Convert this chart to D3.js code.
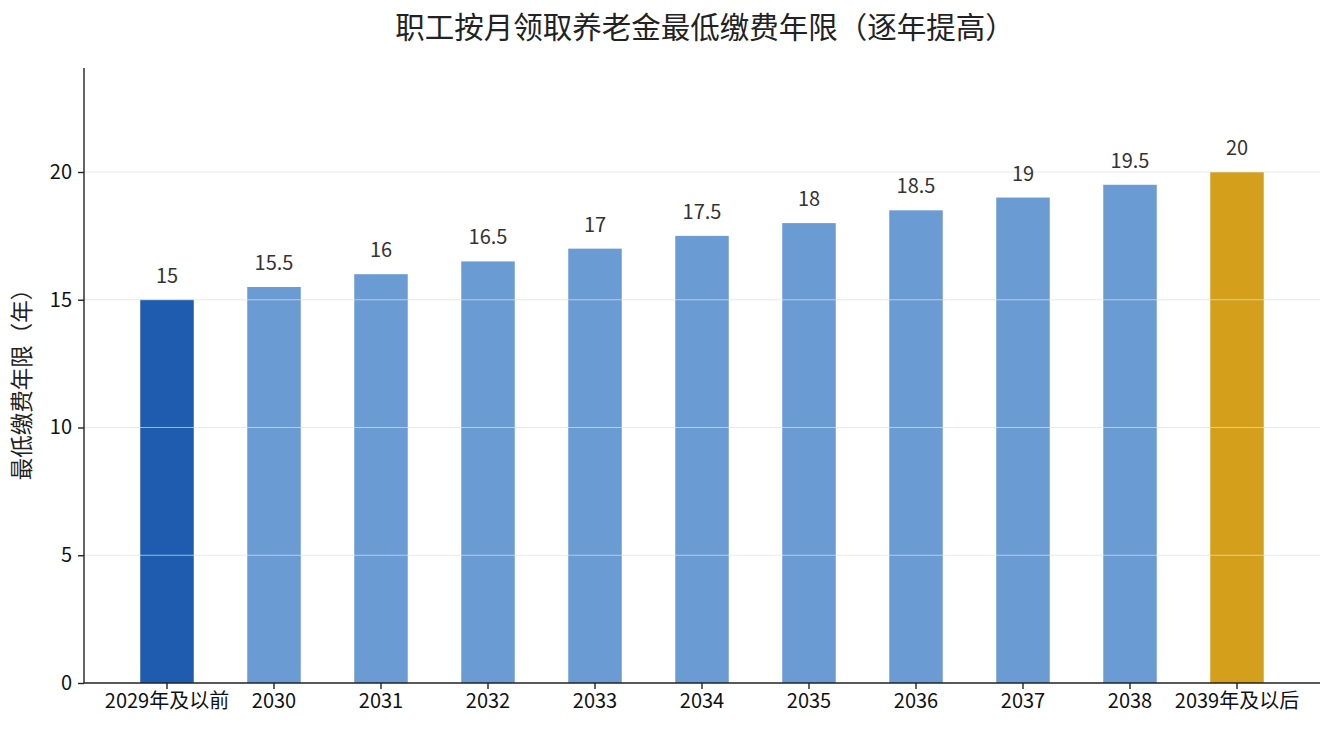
<!DOCTYPE html>
<html><head><meta charset="utf-8">
<script src="https://cdn.jsdelivr.net/npm/d3@7"></script>
<style>body{margin:0;background:#fff}svg{display:block}text{font-family:"Noto Sans CJK SC","Noto Sans",sans-serif}</style>
</head><body><svg id="c" width="1335" height="735"></svg>
<script>
const categories=["2029年及以前","2030","2031","2032","2033","2034","2035","2036","2037","2038","2039年及以后"];
const values=[15,15.5,16,16.5,17,17.5,18,18.5,19,19.5,20];
const valueLabels=["15","15.5","16","16.5","17","17.5","18","18.5","19","19.5","20"];
const yTicks=[0,5,10,15,20];
const colors=["#1f5baf","#6b9bd3","#6b9bd3","#6b9bd3","#6b9bd3","#6b9bd3","#6b9bd3","#6b9bd3","#6b9bd3","#6b9bd3","#d4a01b"];
const title="职工按月领取养老金最低缴费年限（逐年提高）";
const yLabel="最低缴费年限（年）";

const L=84,R=1320,T=68,B=683;
const svg=d3.select("#c");
const x=d3.scaleBand().domain(categories).range([L,R]).paddingInner(0.5).paddingOuter(0.5257);
const y=d3.scaleLinear().domain([0,24]).range([B,69.8]);

svg.append("g").selectAll("rect").data(values).join("rect")
 .attr("x",(d,i)=>x(categories[i])).attr("width",x.bandwidth())
 .attr("y",d=>y(d)).attr("height",d=>B-y(d)).attr("fill",(d,i)=>colors[i]);

// grid on top
svg.append("g").selectAll("line").data(yTicks.filter(d=>d>0)).join("line")
 .attr("x1",L).attr("x2",R).attr("y1",d=>y(d)).attr("y2",d=>y(d))
 .attr("stroke","#e0e0e0").attr("stroke-opacity",0.7).attr("stroke-width",1);

svg.append("g").selectAll("text").data(values).join("text")
 .attr("x",(d,i)=>x(categories[i])+x.bandwidth()/2).attr("y",d=>y(d)-17)
 .attr("text-anchor","middle").attr("font-size",20).attr("fill","#333").text((d,i)=>valueLabels[i]);

const yAxis=svg.append("g").attr("transform",`translate(${L},0)`)
 .call(d3.axisLeft(y).tickValues(yTicks).tickSize(6).tickPadding(6));
const xAxis=svg.append("g").attr("transform",`translate(0,${B})`)
 .call(d3.axisBottom(x).tickSize(6).tickPadding(5));
[yAxis,xAxis].forEach(g=>{
 g.select(".domain").attr("stroke","#222").attr("stroke-width",1.4);
 g.selectAll(".tick line").attr("stroke","#222").attr("stroke-width",1.4);
 g.selectAll(".tick text").attr("font-size",20).attr("fill","#111").attr("font-family",'"Noto Sans CJK SC","Noto Sans",sans-serif');
});
yAxis.select(".domain").attr("d",`M0,${B}V${T}`);
xAxis.select(".domain").attr("d",`M${L},0H${R}`);

svg.append("text").attr("x",705).attr("y",38).attr("text-anchor","middle")
 .attr("font-size",29.5).attr("fill","#222").text(title);
svg.append("text").attr("transform",`translate(30,379) rotate(-90)`).attr("text-anchor","middle")
 .attr("font-size",22.5).attr("fill","#222").text(yLabel);
</script></body></html>
